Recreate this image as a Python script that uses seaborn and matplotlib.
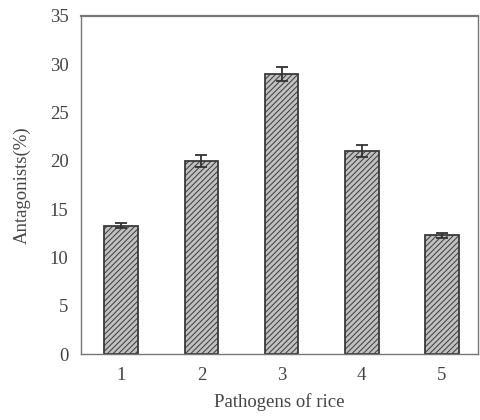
import pandas as pd
import numpy as np
import matplotlib
matplotlib.use("Agg")
import matplotlib.pyplot as plt
import seaborn as sns

# values
pathogens = ["1", "2", "3", "4", "5"]
antagonists = [13.3, 20.0, 29.0, 21.0, 12.3]
errors = [0.3, 0.6, 0.7, 0.6, 0.25]

df = pd.DataFrame({"pathogen": pathogens, "antagonists": antagonists})

sns.set_style("white")
plt.rcParams["font.family"] = ["Liberation Serif", "DejaVu Serif"]
plt.rcParams["hatch.color"] = "#8c8c8c"
plt.rcParams["hatch.linewidth"] = 0.7

fig = plt.figure(figsize=(4.8, 4.2), dpi=100)
ax = fig.add_axes([0.169, 0.157, 0.827, 0.805])

sns.barplot(data=df, x="pathogen", y="antagonists", color="#c0c0c0",
            width=0.42, errorbar=None, edgecolor="#3a3a3a", linewidth=1.3, ax=ax)
for p in ax.patches:
    p.set_hatch("//////")

ax.errorbar(np.arange(len(pathogens)), antagonists, yerr=errors, fmt="none",
            ecolor="#333333", elinewidth=1.3, capsize=4, capthick=1.3)

ax.set_ylim(0, 35)
ax.set_xlim(-0.5, 4.45)
ax.set_yticks(range(0, 36, 5))
ax.set_xticks(range(5))
ax.set_xticks(np.arange(0.5, 4, 1), minor=True)
ax.tick_params(axis="both", which="both", direction="in", labelsize=13.5, colors="#666666",
               labelcolor="#444444", length=4, width=0.8, pad=9)
for s in ax.spines.values():
    s.set_color("#777777")
    s.set_linewidth(1.0)
ax.spines["top"].set_linewidth(1.6)

ax.set_xlabel("Pathogens of rice", fontsize=13.5, color="#444444", labelpad=7)
ax.set_ylabel("Antagonists(%)", fontsize=13.5, color="#444444", labelpad=14)

fig.savefig("out.png", dpi=100)
